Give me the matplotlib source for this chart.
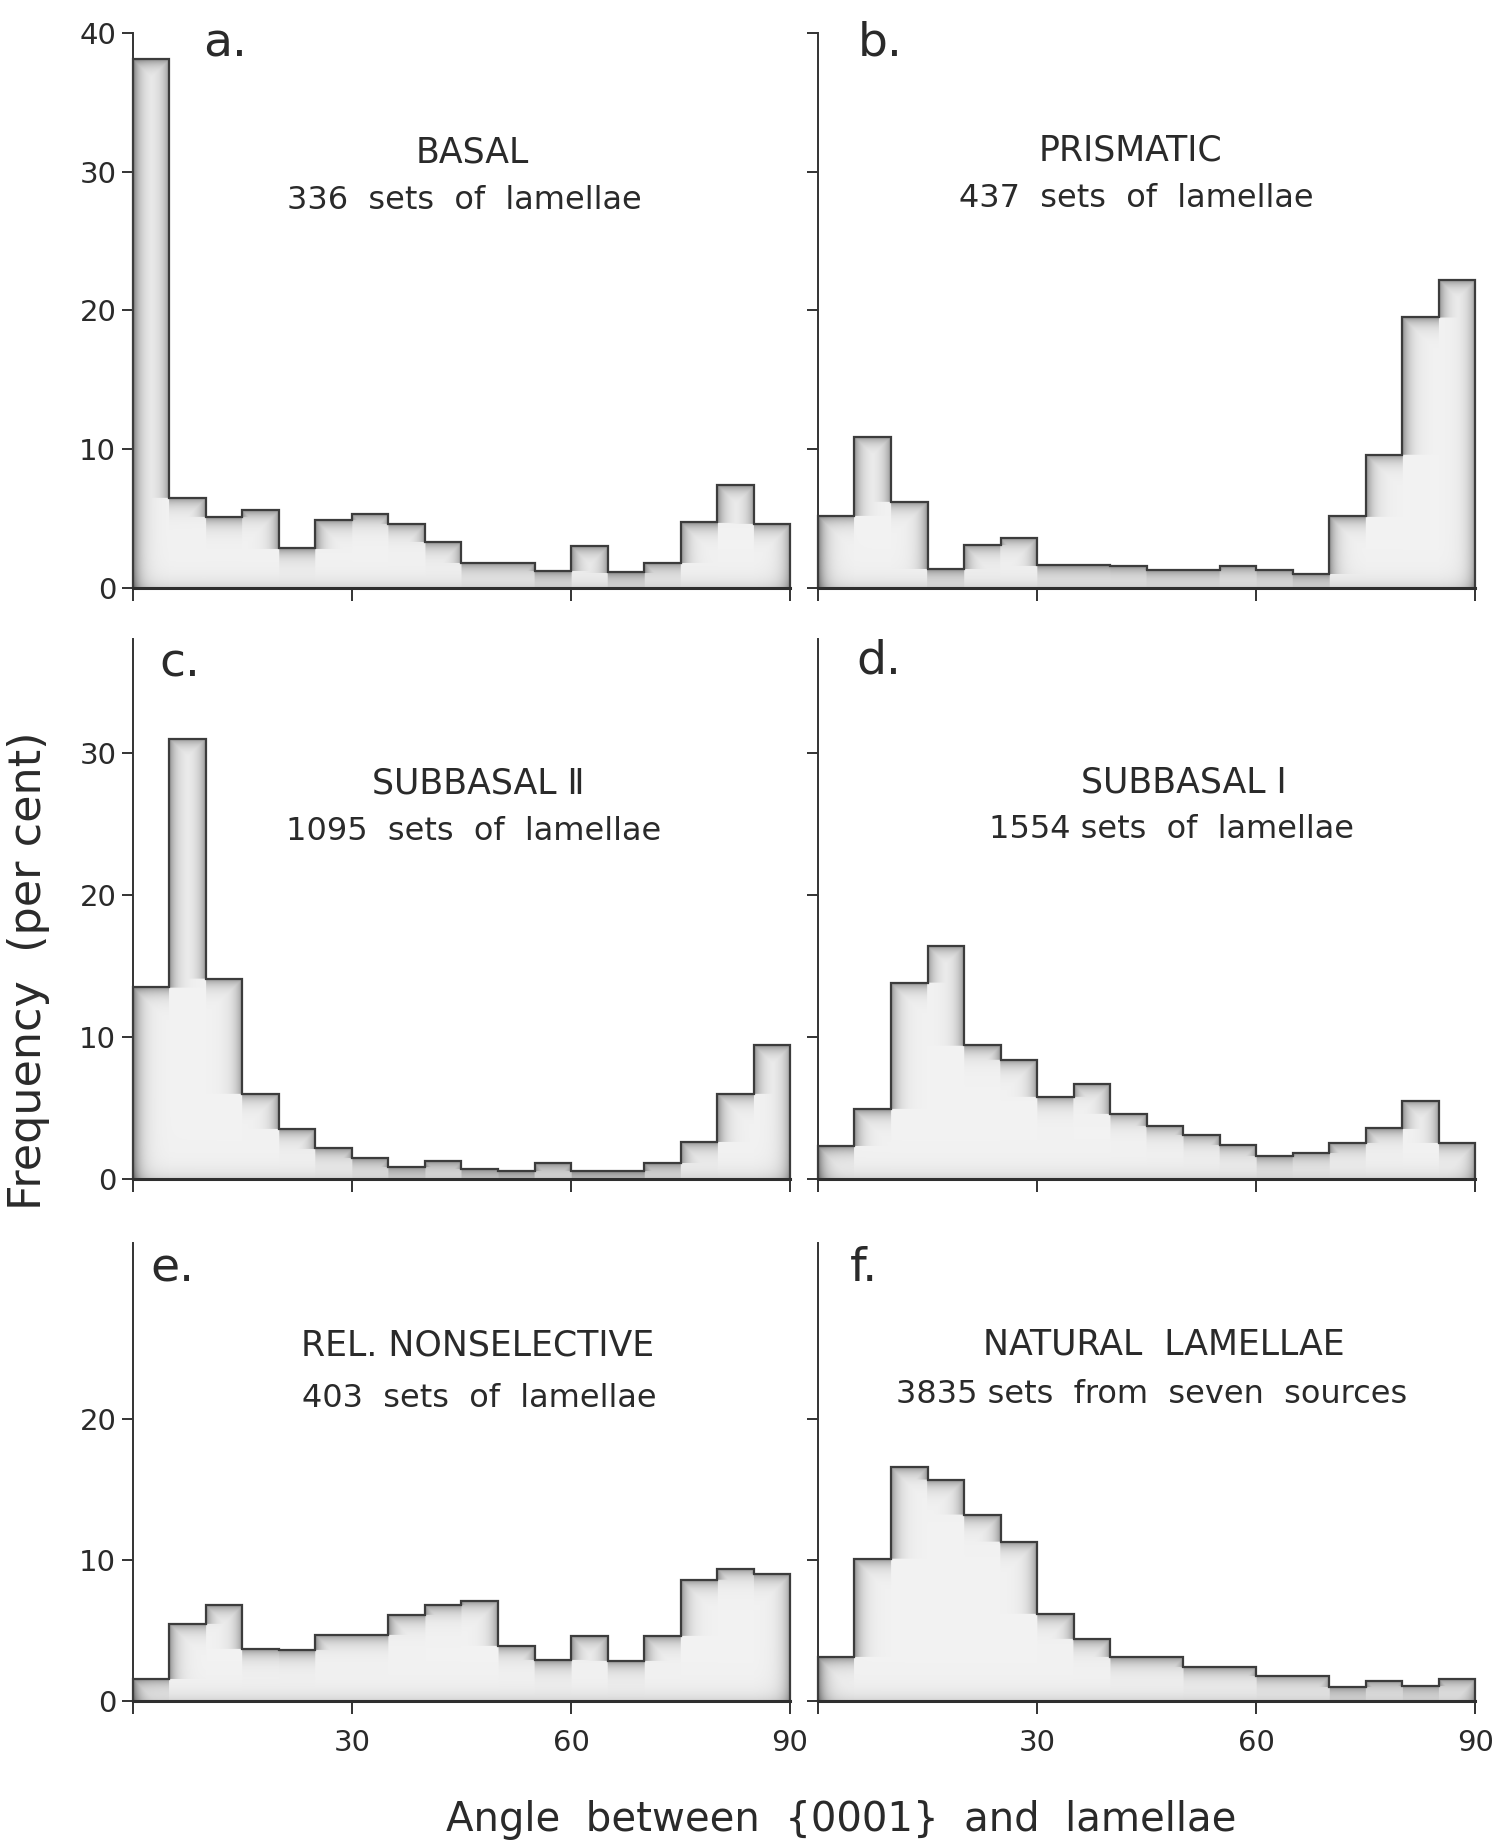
import numpy as np
import matplotlib.pyplot as plt

plt.rcParams['font.family'] = ['DejaVu Sans']
plt.rcParams['text.color'] = '#2a2a2a'

# 5-degree classes, 0-90 degrees
edges = np.arange(0, 91, 5)

basal = [38.1, 6.5, 5.1, 5.6, 2.85, 4.9, 5.3, 4.6, 3.3, 1.8, 1.8, 1.2, 3.0, 1.1, 1.8, 4.7, 7.4, 4.6]
prismatic = [5.2, 10.9, 6.2, 1.35, 3.1, 3.6, 1.6, 1.6, 1.55, 1.3, 1.3, 1.55, 1.3, 1.0, 5.15, 9.6, 19.5, 22.2]
subbasal2 = [13.5, 31.0, 14.1, 6.0, 3.5, 2.15, 1.45, 0.85, 1.25, 0.7, 0.55, 1.1, 0.55, 0.55, 1.1, 2.6, 6.0, 9.4]
subbasal1 = [2.3, 4.9, 13.8, 16.4, 9.4, 8.4, 5.8, 6.7, 4.6, 3.75, 3.1, 2.4, 1.6, 1.85, 2.55, 3.55, 5.5, 2.55]
nonselective = [1.6, 5.5, 6.8, 3.7, 3.6, 4.7, 4.7, 6.1, 6.8, 7.1, 3.9, 2.9, 4.6, 2.85, 4.6, 8.6, 9.4, 9.0]
natural = [3.1, 10.1, 16.6, 15.7, 13.2, 11.3, 6.2, 4.4, 3.1, 3.1, 2.4, 2.4, 1.8, 1.8, 1.0, 1.45, 1.1, 1.55]

letters = ['a.', 'b.', 'c.', 'd.', 'e.', 'f.']
titles = ['BASAL', 'PRISMATIC', 'SUBBASAL Ⅱ', 'SUBBASAL Ⅰ', 'REL. NONSELECTIVE', 'NATURAL  LAMELLAE']
subtitles = ['336  sets  of  lamellae', '437  sets  of  lamellae', '1095  sets  of  lamellae',
             '1554 sets  of  lamellae', '403  sets  of  lamellae', '3835 sets  from  seven  sources']
series = [basal, prismatic, subbasal2, subbasal1, nonselective, natural]

row_top = [40, 38, 32.5]
row_yticks = [[0, 10, 20, 30, 40], [0, 10, 20, 30], [0, 10, 20]]
row_box = [(0.681, 0.301), (0.360, 0.293), (0.0765, 0.2485)]
col_left = [0.0885, 0.5446]
col_w = 0.4375

title_y = [(0.785, 0.699), (0.789, 0.702), (0.733, 0.644), (0.735, 0.648), (0.776, 0.662), (0.778, 0.670)]
title_x = [(0.516, 0.505), (0.476, 0.484), (0.525, 0.519), (0.556, 0.538), (0.525, 0.527), (0.527, 0.508)]
letter_xy = [(0.107, 0.957), (0.061, 0.96), (0.041, 0.93), (0.058, 0.937), (0.027, 0.917), (0.049, 0.917)]


def shade(ax, vals, ytop):
    # near-white fill that darkens close to the outline, like the stippled original
    w_px, h_px = ax.bbox.width, ax.bbox.height
    nx, ny = int(w_px), int(h_px)
    v = np.asarray(vals)
    xs = (np.arange(nx) + 0.5) / nx * 90
    ys = (np.arange(ny) + 0.5) / ny * ytop
    idx = np.minimum((xs // 5).astype(int), len(v) - 1)
    top = v[idx]
    left_nb = np.r_[0, v[:-1]][idx]
    right_nb = np.r_[v[1:], 0][idx]
    Y = ys[:, None]
    d = (top[None, :] - Y) * (h_px / ytop)
    dl = (xs - edges[idx]) * (w_px / 90)
    dr = (edges[idx + 1] - xs) * (w_px / 90)
    DL = np.where(Y > left_nb[None, :], dl[None, :], np.inf)
    DR = np.where(Y > right_nb[None, :], dr[None, :], np.inf)
    D = np.minimum(d, np.minimum(DL, DR))
    g = 0.95 - 0.38 * np.exp(-np.clip(D, 0, None) / 7)
    # faint band along the baseline and the y axis
    g = g - 0.12 * np.exp(-(Y * h_px / ytop) / 8) - 0.10 * np.exp(-(xs[None, :] * w_px / 90) / 8)
    img = np.ones((ny, nx, 4))
    img[..., 0] = g
    img[..., 1] = g
    img[..., 2] = g
    img[..., 3] = (d > 0).astype(float)
    ax.imshow(img, extent=[0, 90, 0, ytop], origin='lower', aspect='auto',
              interpolation='bilinear', zorder=1)


fig = plt.figure(figsize=(15.02, 18.42), dpi=100)

for i, vals in enumerate(series):
    row, col = i // 2, i % 2
    bottom, height = row_box[row]
    ax = fig.add_axes([col_left[col], bottom, col_w, height])
    ytop = row_top[row]

    shade(ax, vals, ytop)
    ax.stairs(vals, edges, baseline=0, color='#3c3c3c', lw=1.6, zorder=3, clip_on=False)

    ax.set_xlim(0, 90)
    ax.set_ylim(0, ytop)
    for s in ['top', 'right']:
        ax.spines[s].set_visible(False)
    ax.spines['left'].set_linewidth(1.4)
    ax.spines['left'].set_color('#333333')
    ax.spines['bottom'].set_linewidth(2.2)
    ax.spines['bottom'].set_color('#2e2e2e')
    ax.spines['bottom'].set_zorder(4)

    ax.set_xticks([0, 30, 60, 90])
    if row == 2:
        ax.set_xticklabels(['', '30', '60', '90'])
    else:
        ax.set_xticklabels([])
    ax.set_yticks(row_yticks[row])
    if col == 0:
        ax.set_yticklabels([str(t) for t in row_yticks[row]])
    else:
        ax.set_yticklabels([])
    ax.tick_params(axis='x', direction='out', length=9, width=1.4, color='#333333',
                   labelsize=21, pad=11, labelcolor='#2a2a2a')
    ax.tick_params(axis='y', direction='out', length=8, width=1.4, color='#333333',
                   labelsize=21, pad=4, labelcolor='#2a2a2a')

    lx, ly = letter_xy[i]
    ax.text(lx, ly, letters[i], transform=ax.transAxes, fontsize=34, va='baseline', ha='left')
    tx, sx = title_x[i]
    ty, sy = title_y[i]
    ax.text(tx, ty, titles[i], transform=ax.transAxes, fontsize=25, ha='center', va='center')
    ax.text(sx, sy, subtitles[i], transform=ax.transAxes, fontsize=23, ha='center', va='center')

fig.text(0.019, 0.473, 'Frequency  (per cent)', rotation=90, fontsize=32, ha='center', va='center')
fig.text(0.560, 0.006, 'Angle  between  {0001}  and  lamellae', fontsize=29, ha='center', va='baseline')

fig.savefig('out.png', dpi=100, facecolor='white')
